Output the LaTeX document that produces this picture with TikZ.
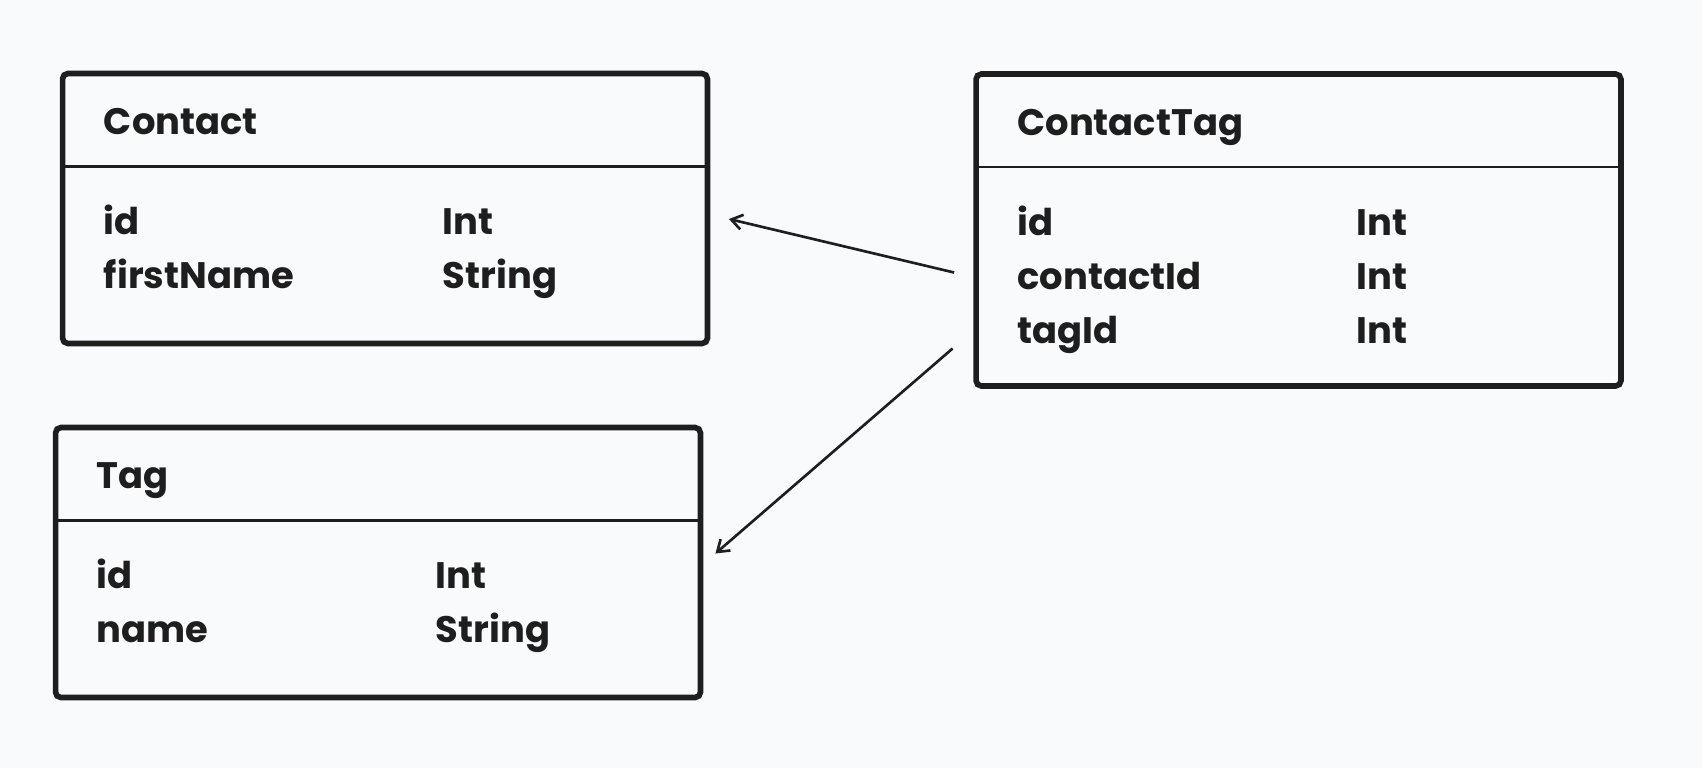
\documentclass[tikz,border=0pt]{standalone}
\usepackage{fontspec}
\setmainfont{Poppins}
\usetikzlibrary{arrows.meta}
\definecolor{paper}{RGB}{249,250,251}
\definecolor{ink}{RGB}{30,30,30}
\begin{document}
\begin{tikzpicture}[x=0.02cm, y=-0.02cm,
  table/.style={draw=ink, line width=3.2pt, rounded corners=3pt, inner sep=0pt, outer sep=0pt, minimum width=12.9cm},
  divider/.style={draw=ink, line width=1.5pt},
  field/.style={text=ink, anchor=base west, inner sep=0pt, font=\fontsize{21}{26}\selectfont\bfseries},
  fk/.style={draw=ink, line width=1.5pt, -{Straight Barb[length=2.2mm,width=3mm]}}]

\fill[paper] (0,0) rectangle (1702,768);
\useasboundingbox (0,0) rectangle (1702,768);

% tables
\node[table, minimum height=5.4cm] (contact) at (385,208.5) {};
\node[table, minimum height=6.24cm] (ctag) at (1298.5,230) {};
\node[table, minimum height=5.4cm] (tag) at (378,562.5) {};

\draw[divider] ([shift={(0,93)}]contact.north west) -- ([shift={(0,93)}]contact.north east);
\draw[divider] ([shift={(0,93)}]ctag.north west) -- ([shift={(0,93)}]ctag.north east);
\draw[divider] ([shift={(-2,93)}]tag.north west) -- ([shift={(0,93)}]tag.north east);

% Contact
\node[field] (contacttitle) at ([shift={(41,61)}]contact.north west) {Contact};
\node[field] (contactid) at ([shift={(41,161)}]contact.north west) {id};
\node[field] (contactidtype) at ([shift={(380,161)}]contact.north west) {Int};
\node[field] (contactfirst) at ([shift={(41,215)}]contact.north west) {firstName};
\node[field] (contactfirsttype) at ([shift={(380,215)}]contact.north west) {String};

% ContactTag
\node[field] (ctagtitle) at ([shift={(41,61)}]ctag.north west) {ContactTag};
\node[field] (ctagid) at ([shift={(41,161)}]ctag.north west) {id};
\node[field] (ctagidtype) at ([shift={(380,161)}]ctag.north west) {Int};
\node[field] (ctagcontact) at ([shift={(41,215)}]ctag.north west) {contactId};
\node[field] (ctagcontacttype) at ([shift={(380,215)}]ctag.north west) {Int};
\node[field] (ctagtag) at ([shift={(41,269)}]ctag.north west) {tagId};
\node[field] (ctagtagtype) at ([shift={(380,269)}]ctag.north west) {Int};

% Tag
\node[field] (tagtitle) at ([shift={(41,61)}]tag.north west) {Tag};
\node[field] (tagid) at ([shift={(41,161)}]tag.north west) {id};
\node[field] (tagidtype) at ([shift={(380,161)}]tag.north west) {Int};
\node[field] (tagname) at ([shift={(41,215)}]tag.north west) {name};
\node[field] (tagnametype) at ([shift={(380,215)}]tag.north west) {String};

% relations
\draw[fk] ([shift={(-22,42.5)}]ctag.west) -- ([shift={(21.5,10.5)}]contact.east);
\draw[fk] ([shift={(-23.5,118.5)}]ctag.west) -- ([shift={(15,-9)}]tag.east);

\end{tikzpicture}
\end{document}
